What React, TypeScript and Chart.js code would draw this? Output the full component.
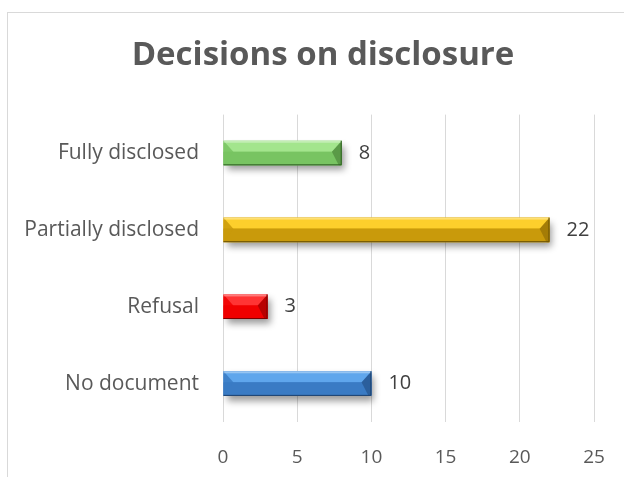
import React, { useEffect, useRef } from "react";
import { Chart, registerables } from "chart.js";

Chart.register(...registerables);

const categories = ["Fully disclosed", "Partially disclosed", "Refusal", "No document"];
const values = [8, 22, 3, 10];
const xTicks = [0, 5, 10, 15, 20, 25];
const titleText = "Decisions on disclosure";

const barMid = ["#78c462", "#c99a0b", "#f00000", "#3a7bc4"];
const barLight = ["#a3e58d", "#fdcf2c", "#ff3434", "#5fa6ec"];
const barDark = ["#5a9a47", "#a47c06", "#b80000", "#2b5f9c"];
const barEdge = ["#2f5e22", "#6b5204", "#7a0000", "#1d406c"];

const FONT = "'Open Sans', 'DejaVu Sans', sans-serif";

const bevelPlugin = {
  id: "bevel",
  beforeDatasetsDraw(chart: any) {
    const ctx = chart.ctx;
    ctx.save();
    ctx.shadowColor = "rgba(0,0,0,0.4)";
    ctx.shadowBlur = 7;
    ctx.shadowOffsetX = 3;
    ctx.shadowOffsetY = 5;
  },
  afterDatasetsDraw(chart: any) {
    const ctx = chart.ctx;
    ctx.restore();
    const meta = chart.getDatasetMeta(0);
    meta.data.forEach((bar: any, i: number) => {
      const x0 = Math.min(bar.base, bar.x);
      const x1 = Math.max(bar.base, bar.x);
      const y0 = bar.y - bar.height / 2;
      const y1 = bar.y + bar.height / 2;
      const h = y1 - y0;
      const b = Math.min(h * 0.4, (x1 - x0) / 2);
      const ym = y0 + h * 0.45;
      ctx.save();
      ctx.fillStyle = barLight[i];
      ctx.fillRect(x0, y0, x1 - x0, ym - y0);
      ctx.fillStyle = barMid[i];
      ctx.fillRect(x0, ym, x1 - x0, y1 - ym);
      ctx.beginPath();
      ctx.moveTo(x0, y0);
      ctx.lineTo(x0 + b, ym);
      ctx.lineTo(x0, y1);
      ctx.closePath();
      ctx.fillStyle = barMid[i];
      ctx.globalAlpha = 0.85;
      ctx.fill();
      ctx.globalAlpha = 1;
      ctx.beginPath();
      ctx.moveTo(x1, y0);
      ctx.lineTo(x1 - b, ym);
      ctx.lineTo(x1 - b * 0.3, y1);
      ctx.lineTo(x1, y1);
      ctx.closePath();
      ctx.fillStyle = barDark[i];
      ctx.fill();
      ctx.fillStyle = "rgba(255,255,255,0.35)";
      ctx.fillRect(x0, y0, x1 - x0, 2);
      ctx.strokeStyle = barEdge[i];
      ctx.lineWidth = 1;
      ctx.beginPath();
      ctx.moveTo(x1 - 0.5, y0);
      ctx.lineTo(x1 - 0.5, y1 - 0.5);
      ctx.lineTo(x0, y1 - 0.5);
      ctx.stroke();
      ctx.fillStyle = "#404040";
      ctx.font = `20px ${FONT}`;
      ctx.textAlign = "left";
      ctx.textBaseline = "middle";
      ctx.fillText(String(values[i]), x1 + 17, bar.y);
      ctx.restore();
    });
  },
};

export default function App() {
  const ref = useRef<HTMLCanvasElement>(null);
  useEffect(() => {
    const chart = new Chart(ref.current!, {
      type: "bar",
      data: {
        labels: categories,
        datasets: [
          {
            data: values,
            backgroundColor: barMid,
            borderWidth: 0,
            barPercentage: 0.64,
            categoryPercentage: 0.5,
          },
        ],
      },
      plugins: [bevelPlugin],
      options: {
        indexAxis: "y",
        animation: false,
        responsive: false,
        maintainAspectRatio: false,
        layout: { padding: 0 },
        plugins: {
          legend: { display: false },
          tooltip: { enabled: false },
          title: {
            display: true,
            text: titleText,
            color: "#595959",
            font: { family: FONT, size: 33, weight: "bold" },
            padding: { top: 36, bottom: 39 },
          },
        },
        scales: {
          x: {
            min: 0,
            max: 25,
            afterBuildTicks: (scale: any) => {
              scale.ticks = xTicks.map((v) => ({ value: v }));
            },
            afterFit: (scale: any) => {
              scale.height = 55;
            },
            grid: { color: "#d9d9d9", lineWidth: 1, drawTicks: false },
            border: { display: false },
            ticks: { color: "#595959", font: { family: FONT, size: 19 }, padding: 24 },
          },
          y: {
            afterFit: (scale: any) => {
              scale.width = 223;
            },
            grid: { display: false, drawTicks: false },
            border: { display: false },
            ticks: { color: "#595959", font: { family: FONT, size: 21 }, padding: 24 },
          },
          pad: {
            type: "linear",
            position: "right",
            display: true,
            afterFit: (scale: any) => {
              scale.width = 52;
            },
            grid: { display: false, drawTicks: false },
            border: { display: false },
            ticks: { display: false },
          },
        },
      },
    });
    return () => chart.destroy();
  }, []);
  return (
    <div style={{ position: "fixed", left: 0, top: 0, width: 624, height: 477, background: "#fff", overflow: "hidden" }}>
      <div style={{ position: "absolute", left: 7, top: 12, width: 700, height: 600, border: "1px solid #d9d9d9" }} />
      <canvas ref={ref} width={646} height={477} style={{ position: "absolute", left: 0, top: 0 }} />
    </div>
  );
}
